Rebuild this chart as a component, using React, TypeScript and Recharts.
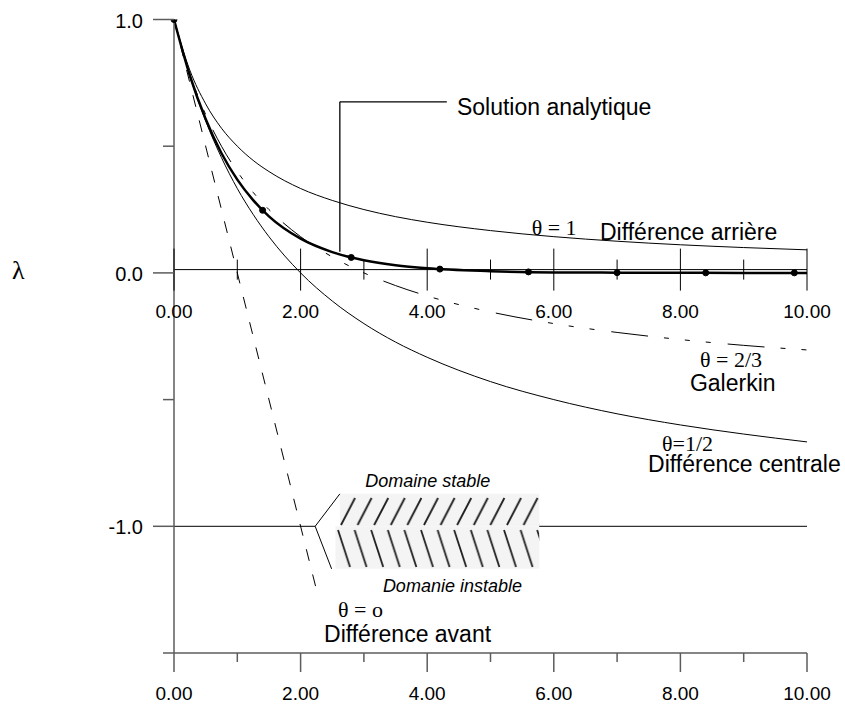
import React from "react";
import {
  ComposedChart,
  Line,
  XAxis,
  YAxis,
  ReferenceLine,
  ReferenceDot,
  ReferenceArea,
} from "recharts";

// sampled pas de temps (x) and the amplification factor of each scheme
const xs = [0, 0.25, 0.5, 0.75, 1, 1.25, 1.5, 2, 2.5, 3, 3.5, 4, 5, 6, 7, 8, 9, 10];
const arriere = [1, 0.8, 0.667, 0.571, 0.5, 0.444, 0.4, 0.333, 0.286, 0.25, 0.222, 0.2, 0.167, 0.143, 0.125, 0.111, 0.1, 0.091];
const galerkin = [1, 0.786, 0.625, 0.5, 0.4, 0.318, 0.25, 0.143, 0.063, 0, -0.05, -0.091, -0.154, -0.2, -0.235, -0.263, -0.286, -0.304];
const centrale = [1, 0.778, 0.6, 0.455, 0.333, 0.231, 0.143, 0, -0.111, -0.2, -0.273, -0.333, -0.429, -0.5, -0.556, -0.6, -0.636, -0.667];
const analytique = [1, 0.779, 0.607, 0.472, 0.368, 0.287, 0.223, 0.135, 0.082, 0.05, 0.03, 0.018, 0.007, 0.002, 0.001, 0.0003, 0.0001, 0];

// forward difference (dashed straight line)
const avantX = [0, 2.27];
const avantY = [1, -1.27];

// markers on the analytic solution
const dotX = [0, 1.4, 2.8, 4.2, 5.6, 7.0, 8.4, 9.8];
const dotY = [1, 0.247, 0.061, 0.015, 0.004, 0.001, 0.0002, 0.0001];

const xTicks = [0, 1, 2, 3, 4, 5, 6, 7, 8, 9, 10];
const xTickLabels = ["0.00", "", "2.00", "", "4.00", "", "6.00", "", "8.00", "", "10.00"];
const yTicks = [1, 0.5, 0, -0.5, -1, -1.5];
const yTickLabels = ["1.0", "", "0.0", "", "-1.0", ""];

const zeroLine = 0.013;

const rows = xs.map((x, i) => ({
  x,
  arriere: arriere[i],
  galerkin: galerkin[i],
  centrale: centrale[i],
  analytique: analytique[i],
}));
const avantRows = avantX.map((x, i) => ({ x, avant: avantY[i] }));
const dotRows = dotX.map((x, i) => ({ x, pt: dotY[i] }));

const AXIS = "#5c5c5c";
const SANS = "'Liberation Sans', Arial, Helvetica, sans-serif";
const SERIF = "'Liberation Serif', 'Times New Roman', serif";

type Note = { text: string; x: number; y: number; font: "sans" | "serif" | "italic"; size: number };
const notes: Note[] = [
  { text: "Solution analytique", x: 4.47, y: 0.623, font: "sans", size: 23 },
  { text: "θ = 1", x: 5.65, y: 0.15, font: "serif", size: 22 },
  { text: "Différence arrière", x: 6.73, y: 0.13, font: "sans", size: 23 },
  { text: "θ = 2/3", x: 8.31, y: -0.371, font: "serif", size: 22 },
  { text: "Galerkin", x: 8.15, y: -0.465, font: "sans", size: 23 },
  { text: "θ=1/2", x: 7.71, y: -0.704, font: "serif", size: 22 },
  { text: "Différence centrale", x: 7.49, y: -0.785, font: "sans", size: 23 },
  { text: "Domaine stable", x: 3.02, y: -0.844, font: "italic", size: 18 },
  { text: "Domanie instable", x: 3.3, y: -1.258, font: "italic", size: 18 },
  { text: "θ = o", x: 2.59, y: -1.357, font: "serif", size: 22 },
  { text: "Différence avant", x: 2.37, y: -1.456, font: "sans", size: 23 },
];

function BottomTick(props: any) {
  const { x, y, payload } = props;
  const i = xTicks.indexOf(payload.value);
  const major = payload.value % 2 === 0;
  return (
    <g>
      <line x1={x} x2={x} y1={y} y2={y + (major ? 19 : 9)} stroke={AXIS} strokeWidth={1.5} />
      {major && (
        <text x={x} y={y + 47} textAnchor="middle" fontSize={19} fontFamily={SANS} fill="#000">
          {xTickLabels[i]}
        </text>
      )}
    </g>
  );
}

function LeftTick(props: any) {
  const { x, y, payload } = props;
  const i = yTicks.indexOf(payload.value);
  const major = yTickLabels[i] !== "";
  return (
    <g>
      <line x1={x - (major ? 21 : 11)} x2={x} y1={y} y2={y} stroke={AXIS} strokeWidth={1.5} />
      {major && (
        <text x={x - 31} y={y + 8} textAnchor="end" fontSize={20} fontFamily={SANS} fill="#000">
          {yTickLabels[i]}
        </text>
      )}
    </g>
  );
}

function MidTick(v: number) {
  const i = xTicks.indexOf(v);
  const major = v % 2 === 0;
  return (p: any) => (
    <g>
      <line
        x1={p.cx}
        x2={p.cx}
        y1={p.cy - (major ? 21 : 10)}
        y2={p.cy + (major ? 21 : 10)}
        stroke="#000"
        strokeWidth={1}
      />
      {major && (
        <text x={p.cx} y={p.cy + 48} textAnchor="middle" fontSize={19} fontFamily={SANS} fill="#000">
          {xTickLabels[i]}
        </text>
      )}
    </g>
  );
}

function NoteShape(n: Note) {
  return (p: any) => (
    <text
      x={p.cx}
      y={p.cy}
      fontSize={n.size}
      fontFamily={n.font === "serif" ? SERIF : SANS}
      fontStyle={n.font === "italic" ? "italic" : "normal"}
      fill="#000"
    >
      {n.text}
    </text>
  );
}

export default function App() {
  return (
    <div style={{ position: "absolute", left: 0, top: 0, width: 845, height: 704, background: "#fff" }}>
      <svg width={0} height={0} style={{ position: "absolute" }}>
        <defs>
          <pattern id="hatchUp" patternUnits="userSpaceOnUse" x={340} y={494} width={16.6} height={33}>
            <rect width={16.6} height={33} fill="#f4f4f4" />
            <line x1={1} y1={31} x2={15} y2={4} stroke="#1e1e1e" strokeWidth={1.8} />
          </pattern>
          <pattern id="hatchDown" patternUnits="userSpaceOnUse" x={336} y={527} width={16.6} height={42}>
            <rect width={16.6} height={42} fill="#f4f4f4" />
            <line x1={2} y1={3} x2={14} y2={40} stroke="#1e1e1e" strokeWidth={1.8} />
          </pattern>
        </defs>
      </svg>
      <div
        style={{
          position: "absolute",
          left: 12,
          top: 256,
          fontFamily: SERIF,
          fontSize: 26,
          lineHeight: "30px",
        }}
      >
        λ
      </div>
      <ComposedChart
        width={845}
        height={704}
        data={rows}
        margin={{ top: 19.5, right: 38, bottom: 0, left: 0 }}
      >
        <XAxis
          type="number"
          dataKey="x"
          domain={[0, 10]}
          ticks={xTicks}
          interval={0}
          height={51}
          tickSize={0}
          tickMargin={0}
          tickLine={false}
          axisLine={{ stroke: AXIS, strokeWidth: 1.5 }}
          tick={<BottomTick />}
        />
        <YAxis
          type="number"
          domain={[-1.5, 1]}
          ticks={yTicks}
          interval={0}
          width={174}
          tickSize={0}
          tickMargin={0}
          tickLine={false}
          allowDataOverflow
          axisLine={{ stroke: AXIS, strokeWidth: 1.5 }}
          tick={<LeftTick />}
        />

        {/* hatched stability domain */}
        <ReferenceArea x1={2.62} x2={5.77} y1={-1} y2={-0.872} fill="url(#hatchUp)" fillOpacity={1} stroke="none" />
        <ReferenceArea x1={2.55} x2={5.77} y1={-1.168} y2={-1} fill="url(#hatchDown)" fillOpacity={1} stroke="none" />
        <ReferenceLine segment={[{ x: 0, y: -1 }, { x: 2.23, y: -1 }]} stroke="#000" strokeWidth={1} />
        <ReferenceLine segment={[{ x: 5.77, y: -1 }, { x: 10, y: -1 }]} stroke="#000" strokeWidth={1} />
        <ReferenceLine segment={[{ x: 2.23, y: -1 }, { x: 2.62, y: -0.872 }]} stroke="#000" strokeWidth={1} />
        <ReferenceLine segment={[{ x: 2.23, y: -1 }, { x: 2.49, y: -1.168 }]} stroke="#000" strokeWidth={1} />

        {/* axis through zero */}
        <ReferenceLine segment={[{ x: 0, y: zeroLine }, { x: 10, y: zeroLine }]} stroke="#000" strokeWidth={1} />
        {xTicks.map((v) => (
          <ReferenceDot key={"t" + v} x={v} y={zeroLine} r={1} shape={MidTick(v)} />
        ))}

        {/* callout for the analytic solution */}
        <ReferenceLine segment={[{ x: 2.62, y: 0.083 }, { x: 2.62, y: 0.675 }]} stroke="#000" strokeWidth={1.3} />
        <ReferenceLine segment={[{ x: 2.62, y: 0.675 }, { x: 4.31, y: 0.675 }]} stroke="#000" strokeWidth={1.3} />

        <Line type="monotone" dataKey="arriere" stroke="#000" strokeWidth={1} dot={false} isAnimationActive={false} />
        <Line
          type="monotone"
          dataKey="galerkin"
          stroke="#000"
          strokeWidth={1}
          strokeDasharray="37 16 5 16 5 16 5 17"
          dot={false}
          isAnimationActive={false}
        />
        <Line type="monotone" dataKey="centrale" stroke="#000" strokeWidth={1} dot={false} isAnimationActive={false} />
        <Line type="monotone" dataKey="analytique" stroke="#000" strokeWidth={2.5} dot={false} isAnimationActive={false} />
        <Line
          data={avantRows}
          type="linear"
          dataKey="avant"
          stroke="#000"
          strokeWidth={1}
          strokeDasharray="12 14"
          dot={false}
          isAnimationActive={false}
        />
        <Line
          data={dotRows}
          dataKey="pt"
          stroke="none"
          dot={{ r: 3, fill: "#000", stroke: "#000", strokeWidth: 1 }}
          isAnimationActive={false}
        />

        {notes.map((n) => (
          <ReferenceDot key={n.text} x={n.x} y={n.y} r={1} shape={NoteShape(n)} />
        ))}
      </ComposedChart>
    </div>
  );
}
